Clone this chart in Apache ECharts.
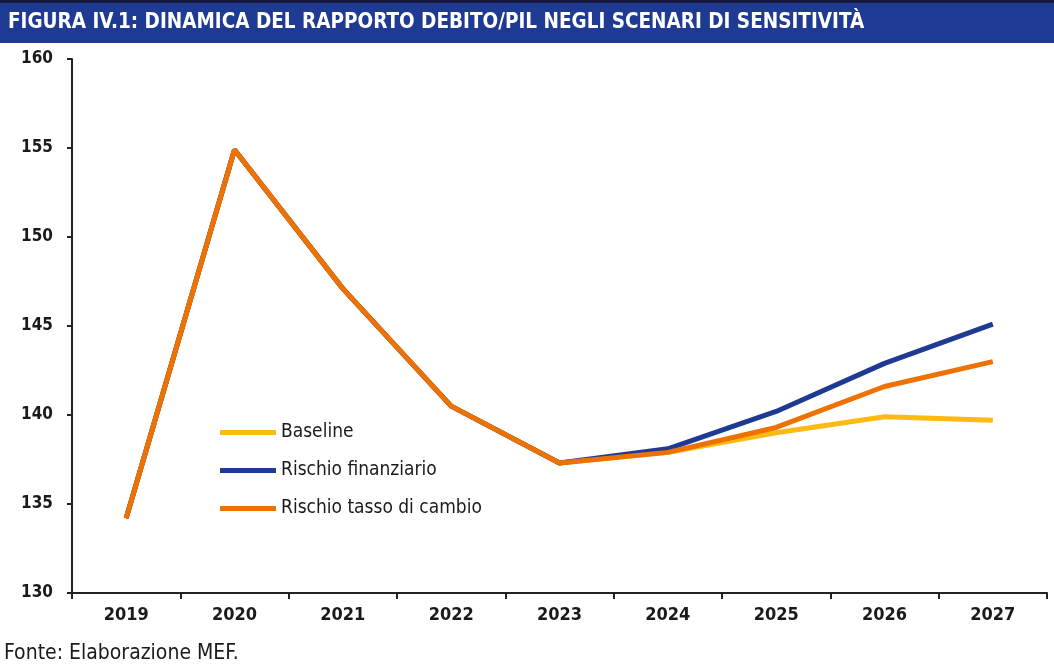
<!DOCTYPE html>
<html>
<head>
<meta charset="utf-8">
<script src="https://cdn.jsdelivr.net/npm/echarts@6/dist/echarts.min.js"></script>
<style>html,body{margin:0;padding:0;background:#fff;}#c{width:1054px;height:668px;}</style>
</head>
<body>
<div id="c"></div>
<script>
const years = ['2019','2020','2021','2022','2023','2024','2025','2026','2027'];
const baseline = [134.2, 154.9, 147.1, 140.5, 137.3, 137.9, 139.0, 139.9, 139.7];
const rischioFinanziario = [134.2, 154.9, 147.1, 140.5, 137.3, 138.1, 140.2, 142.9, 145.1];
const rischioCambio = [134.2, 154.9, 147.1, 140.5, 137.3, 137.9, 139.3, 141.6, 143.0];
const seriesNames = ['Baseline', 'Rischio finanziario', 'Rischio tasso di cambio'];
const yTicks = [130, 135, 140, 145, 150, 155, 160];

const NARROW = '"Liberation Sans Narrow","DejaVu Sans Condensed","Arial Narrow",sans-serif';
const colors = ['#FDBA12', '#1F3A93', '#EE7203'];

const chart = echarts.init(document.getElementById('c'), null, {renderer: 'canvas'});
chart.setOption({
  animation: false,
  color: colors,
  grid: {left: 72, right: 7, top: 59, bottom: 75, containLabel: false},
  graphic: [
    {type: 'rect', shape: {x: 0, y: 0, width: 1054, height: 3}, style: {fill: '#1a1a40'}},
    {type: 'rect', shape: {x: 0, y: 3, width: 1054, height: 40}, style: {fill: '#1F3A93'}},
    {type: 'text', left: 8, top: 12, style: {text: 'FIGURA IV.1: DINAMICA DEL RAPPORTO DEBITO/PIL NEGLI SCENARI DI SENSITIVITÀ', fill: '#ffffff', font: 'bold 20.5px ' + NARROW}},
    {type: 'text', left: 4, top: 643, style: {text: 'Fonte: Elaborazione MEF.', fill: '#1a1a1a', font: '21px ' + NARROW}}
  ],
  legend: {
    orient: 'vertical', left: 220, top: 421, itemGap: 15, itemWidth: 56, itemHeight: 5,
    padding: 0,
    icon: 'rect',
    textStyle: {fontFamily: NARROW, fontSize: 19, color: '#1a1a1a', lineHeight: 23},
    data: seriesNames
  },
  xAxis: {
    type: 'category', data: years, boundaryGap: true,
    axisLine: {lineStyle: {color: '#222', width: 2}},
    axisTick: {show: true, length: 6, lineStyle: {color: '#222', width: 2}},
    axisLabel: {color: '#1a1a1a', fontFamily: NARROW, fontSize: 18, fontWeight: 'bold', margin: 13}
  },
  yAxis: {
    type: 'value', min: 130, max: 160, interval: 5,
    axisLine: {show: true, lineStyle: {color: '#222', width: 2}},
    axisTick: {show: true, length: 5, lineStyle: {color: '#222', width: 2}},
    splitLine: {show: false},
    axisLabel: {color: '#1a1a1a', fontFamily: NARROW, fontSize: 17, fontWeight: 'bold', margin: 19,
      formatter: v => yTicks.includes(v) ? String(v) : ''}
  },
  series: [
    {name: seriesNames[0], type: 'line', data: baseline, symbol: 'none', lineStyle: {width: 5, color: colors[0]}, z: 1},
    {name: seriesNames[1], type: 'line', data: rischioFinanziario, symbol: 'none', lineStyle: {width: 5, color: colors[1]}, z: 2},
    {name: seriesNames[2], type: 'line', data: rischioCambio, symbol: 'none', lineStyle: {width: 5, color: colors[2]}, z: 3}
  ]
});
</script>
</body>
</html>
